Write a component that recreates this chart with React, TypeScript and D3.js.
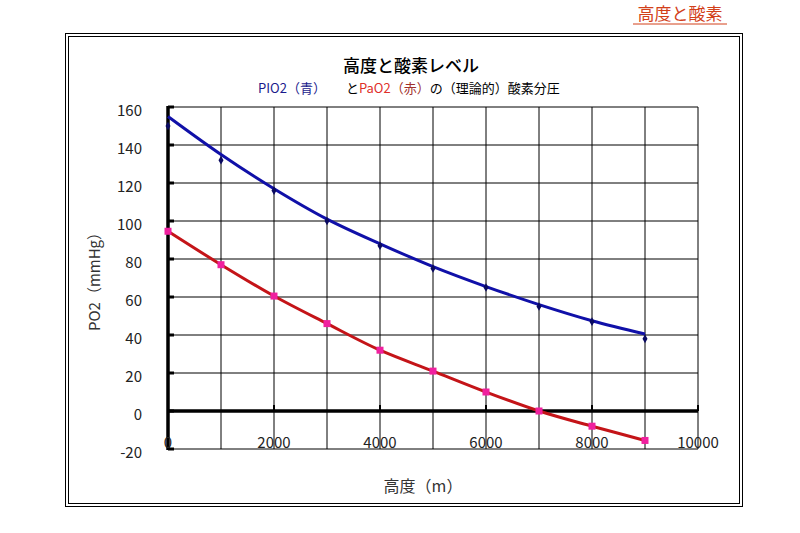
import { useMemo } from 'react';
import * as d3 from 'd3';

// altitude (m)
const altitudes = [0, 1000, 2000, 3000, 4000, 5000, 6000, 7000, 8000, 9000];
// PIO2 measured points (blue diamonds)
const pio2 = [150, 132, 116, 100, 87, 75, 65, 55, 47, 38];
// PIO2 fitted curve drawn as the blue line
const pio2Trend = [155, 135, 117, 101, 88, 76, 65.5, 56, 47.5, 40.5];
// PaO2 (red)
const pao2 = [94.6, 77, 60.5, 46, 32, 21, 10, 0, -8, -15.5];

const xTicks = [0, 2000, 4000, 6000, 8000, 10000];
const xGrid = [0, 1000, 2000, 3000, 4000, 5000, 6000, 7000, 8000, 9000, 10000];
const yTicks = [-20, 0, 20, 40, 60, 80, 100, 120, 140, 160];

const FONT = '"Noto Sans CJK JP", "Noto Sans", sans-serif';

export default function App() {
  const width = 800;
  const height = 533;
  const plot = { left: 168, right: 698, top: 107, bottom: 449 };

  const x = useMemo(() => d3.scaleLinear().domain([0, 10000]).range([plot.left, plot.right]), []);
  const y = useMemo(() => d3.scaleLinear().domain([-20, 160]).range([plot.bottom, plot.top]), []);

  const line = d3.line<[number, number]>()
    .x(d => x(d[0]))
    .y(d => y(d[1]))
    .curve(d3.curveCatmullRom.alpha(0.5));

  const bluePath = line(altitudes.map((a, i) => [a, pio2Trend[i]]))!;
  const redPath = line(altitudes.map((a, i) => [a, pao2[i]]))!;
  const diamond = d3.symbol().type(d3.symbolDiamond).size(22)()!;

  return (
    <svg width={width} height={height} style={{ position: 'absolute', left: 0, top: 0, background: '#fff' }} fontFamily={FONT}>
      <rect width={width} height={height} fill="#fff" />

      {/* link-like heading top right */}
      <text x={680} y={20} textAnchor="middle" fontSize={17} fill="#d2401a">高度と酸素</text>
      <line x1={633} x2={727} y1={24} y2={24} stroke="#d2401a" strokeWidth={1} />

      {/* double frame */}
      <rect x={65.5} y={33.5} width={677} height={473} fill="none" stroke="#000" strokeWidth={1} />
      <rect x={68.5} y={36.5} width={671} height={467} fill="none" stroke="#000" strokeWidth={1} />

      {/* titles */}
      <text x={411} y={72} textAnchor="middle" fontSize={17} fontWeight={500} fill="#000">高度と酸素レベル</text>
      <text x={258} y={93} fontSize={13} fill="#000">
        <tspan fill="#1a1a8c">PIO2（青）</tspan>
        <tspan dx={20}>と</tspan>
        <tspan fill="#e0302a">PaO2</tspan>
        <tspan fill="#a0302a">（赤）</tspan>
        <tspan>の（理論的）酸素分圧</tspan>
      </text>

      {/* grid */}
      {xGrid.map(v => (
        <line key={'gx' + v} x1={x(v)} x2={x(v)} y1={plot.top} y2={plot.bottom} stroke="#000" strokeWidth={1} />
      ))}
      {yTicks.map(v => (
        <line key={'gy' + v} x1={plot.left} x2={plot.right} y1={y(v)} y2={y(v)} stroke="#000" strokeWidth={1} />
      ))}

      {/* axes */}
      <line x1={x(0)} x2={x(0)} y1={plot.top - 1} y2={plot.bottom + 1} stroke="#000" strokeWidth={3.5} />
      <line x1={plot.left} x2={plot.right} y1={y(0)} y2={y(0)} stroke="#000" strokeWidth={3.5} />
      {yTicks.map(v => (
        <line key={'ty' + v} x1={x(0)} x2={x(0) + 6} y1={y(v)} y2={y(v)} stroke="#000" strokeWidth={3} />
      ))}
      {xTicks.map(v => (
        <line key={'tx' + v} x1={x(v)} x2={x(v)} y1={y(0)} y2={y(0) - 6} stroke="#000" strokeWidth={2} />
      ))}

      {/* tick labels */}
      {yTicks.map(v => (
        <text key={'ly' + v} x={142} y={y(v) + 5} textAnchor="end" dominantBaseline="middle" fontSize={15} fill="#222">
          {v}
        </text>
      ))}
      {xTicks.map(v => (
        <text key={'lx' + v} x={x(v)} y={444} textAnchor="middle" dominantBaseline="middle" fontSize={15} fill="#222">
          {v}
        </text>
      ))}

      {/* axis titles */}
      <text transform={`translate(96,${278}) rotate(-90)`} textAnchor="middle" dominantBaseline="middle" fontSize={15} fill="#333">
        PO2（mmHg）
      </text>
      <text x={423} y={488} textAnchor="middle" dominantBaseline="middle" fontSize={16} fill="#333">高度（m）</text>

      {/* series */}
      <path d={bluePath} fill="none" stroke="#1010a8" strokeWidth={3} />
      <path d={redPath} fill="none" stroke="#c41418" strokeWidth={3} />
      {altitudes.map((a, i) => (
        <path key={'b' + a} d={diamond} transform={`translate(${x(a)},${y(pio2[i])})`} fill="#0a0a60" />
      ))}
      {altitudes.map((a, i) => (
        <rect key={'r' + a} x={x(a) - 3.5} y={y(pao2[i]) - 3.5} width={7} height={7} fill="#f0209f" />
      ))}
    </svg>
  );
}
